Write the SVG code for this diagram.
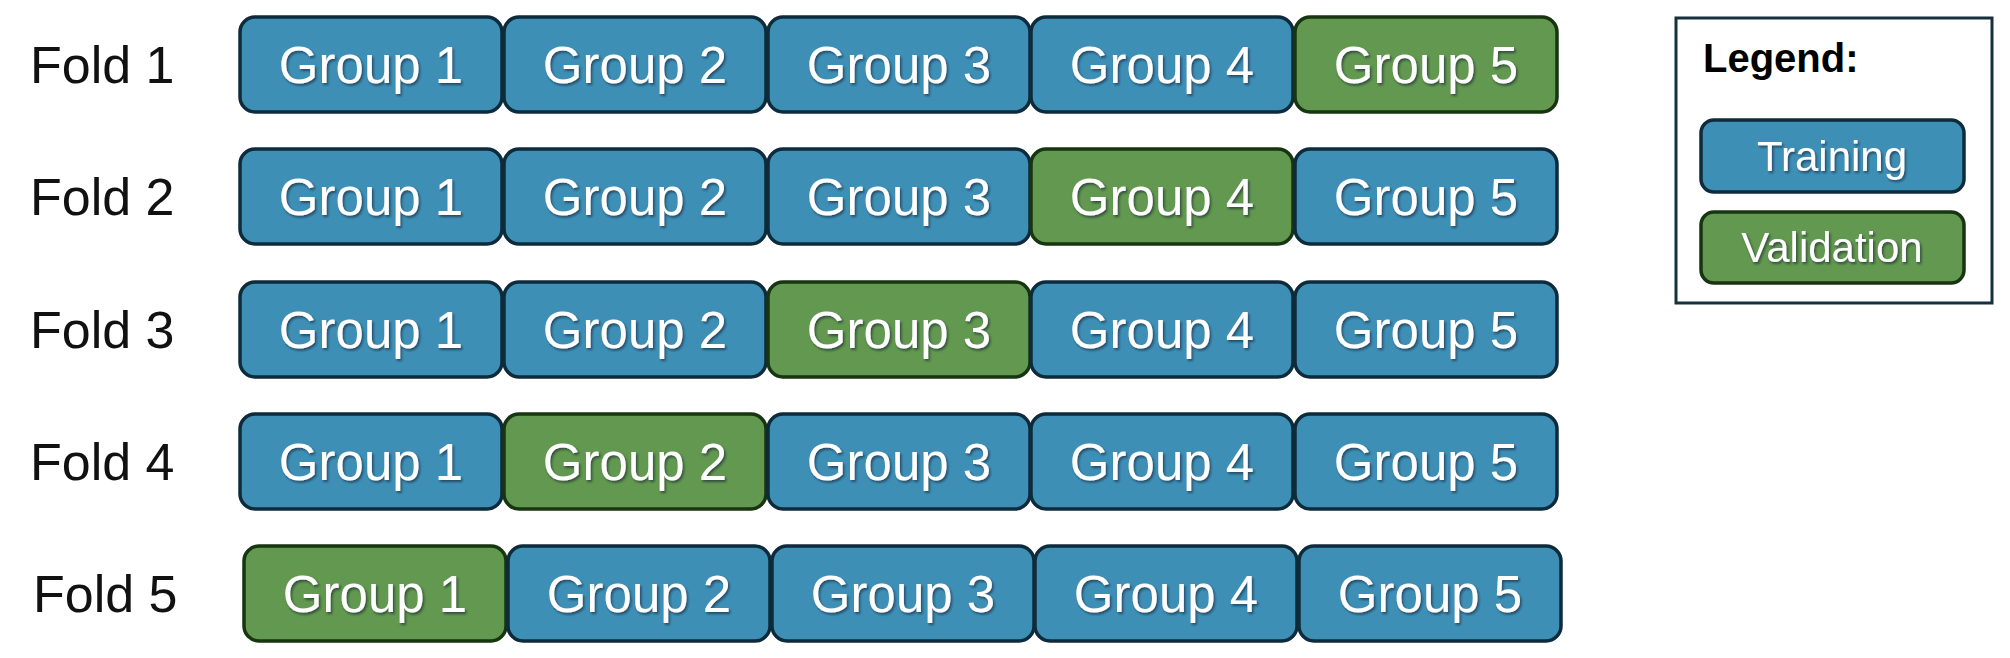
<svg xmlns="http://www.w3.org/2000/svg" width="2010" height="658" viewBox="0 0 2010 658">
<defs>
<filter id="sh" x="-10%" y="-20%" width="120%" height="140%">
<feDropShadow dx="1.5" dy="2" stdDeviation="1" flood-color="#0b2230" flood-opacity="0.6"/>
</filter>
<style>
.tr{fill:#3e8fb6;stroke:#0e2b3b;stroke-width:3.5}
.va{fill:#62984f;stroke:#173510;stroke-width:3.5}
.gt{font-family:"Liberation Sans",Arial,sans-serif;font-size:51px;fill:#ffffff;text-anchor:middle;filter:url(#sh)}
.fl{font-family:"Liberation Sans",Arial,sans-serif;font-size:52px;fill:#111111}
.lg{font-family:"Liberation Sans",Arial,sans-serif;font-size:40px;font-weight:bold;fill:#000000}
.lt{font-family:"Liberation Sans",Arial,sans-serif;font-size:42px;fill:#ffffff;text-anchor:middle;filter:url(#sh)}
</style>
</defs>
<rect width="2010" height="658" fill="#ffffff"/>

<g id="fold1">
<text class="fl" x="30" y="83">Fold 1</text>
<g id="f1g1"><rect class="tr" x="240" y="17" width="262" height="95" rx="15"/><text class="gt" x="371" y="83">Group 1</text></g>
<g id="f1g2"><rect class="tr" x="504" y="17" width="262" height="95" rx="15"/><text class="gt" x="635" y="83">Group 2</text></g>
<g id="f1g3"><rect class="tr" x="768" y="17" width="262" height="95" rx="15"/><text class="gt" x="899" y="83">Group 3</text></g>
<g id="f1g4"><rect class="tr" x="1031" y="17" width="262" height="95" rx="15"/><text class="gt" x="1162" y="83">Group 4</text></g>
<g id="f1g5"><rect class="va" x="1295" y="17" width="262" height="95" rx="15"/><text class="gt" x="1426" y="83">Group 5</text></g>
</g>

<g id="fold2">
<text class="fl" x="30" y="215">Fold 2</text>
<g id="f2g1"><rect class="tr" x="240" y="149" width="262" height="95" rx="15"/><text class="gt" x="371" y="215">Group 1</text></g>
<g id="f2g2"><rect class="tr" x="504" y="149" width="262" height="95" rx="15"/><text class="gt" x="635" y="215">Group 2</text></g>
<g id="f2g3"><rect class="tr" x="768" y="149" width="262" height="95" rx="15"/><text class="gt" x="899" y="215">Group 3</text></g>
<g id="f2g4"><rect class="va" x="1031" y="149" width="262" height="95" rx="15"/><text class="gt" x="1162" y="215">Group 4</text></g>
<g id="f2g5"><rect class="tr" x="1295" y="149" width="262" height="95" rx="15"/><text class="gt" x="1426" y="215">Group 5</text></g>
</g>

<g id="fold3">
<text class="fl" x="30" y="348">Fold 3</text>
<g id="f3g1"><rect class="tr" x="240" y="282" width="262" height="95" rx="15"/><text class="gt" x="371" y="348">Group 1</text></g>
<g id="f3g2"><rect class="tr" x="504" y="282" width="262" height="95" rx="15"/><text class="gt" x="635" y="348">Group 2</text></g>
<g id="f3g3"><rect class="va" x="768" y="282" width="262" height="95" rx="15"/><text class="gt" x="899" y="348">Group 3</text></g>
<g id="f3g4"><rect class="tr" x="1031" y="282" width="262" height="95" rx="15"/><text class="gt" x="1162" y="348">Group 4</text></g>
<g id="f3g5"><rect class="tr" x="1295" y="282" width="262" height="95" rx="15"/><text class="gt" x="1426" y="348">Group 5</text></g>
</g>

<g id="fold4">
<text class="fl" x="30" y="480">Fold 4</text>
<g id="f4g1"><rect class="tr" x="240" y="414" width="262" height="95" rx="15"/><text class="gt" x="371" y="480">Group 1</text></g>
<g id="f4g2"><rect class="va" x="504" y="414" width="262" height="95" rx="15"/><text class="gt" x="635" y="480">Group 2</text></g>
<g id="f4g3"><rect class="tr" x="768" y="414" width="262" height="95" rx="15"/><text class="gt" x="899" y="480">Group 3</text></g>
<g id="f4g4"><rect class="tr" x="1031" y="414" width="262" height="95" rx="15"/><text class="gt" x="1162" y="480">Group 4</text></g>
<g id="f4g5"><rect class="tr" x="1295" y="414" width="262" height="95" rx="15"/><text class="gt" x="1426" y="480">Group 5</text></g>
</g>

<g id="fold5">
<text class="fl" x="33" y="612">Fold 5</text>
<g id="f5g1"><rect class="va" x="244" y="546" width="262" height="95" rx="15"/><text class="gt" x="375" y="612">Group 1</text></g>
<g id="f5g2"><rect class="tr" x="508" y="546" width="262" height="95" rx="15"/><text class="gt" x="639" y="612">Group 2</text></g>
<g id="f5g3"><rect class="tr" x="772" y="546" width="262" height="95" rx="15"/><text class="gt" x="903" y="612">Group 3</text></g>
<g id="f5g4"><rect class="tr" x="1035" y="546" width="262" height="95" rx="15"/><text class="gt" x="1166" y="612">Group 4</text></g>
<g id="f5g5"><rect class="tr" x="1299" y="546" width="262" height="95" rx="15"/><text class="gt" x="1430" y="612">Group 5</text></g>
</g>

<g id="legend">
<rect x="1676" y="18" width="316" height="285" fill="#ffffff" stroke="#16303d" stroke-width="3"/>
<text class="lg" x="1703" y="72">Legend:</text>
<g id="legend-training"><rect class="tr" x="1701" y="120" width="263" height="72" rx="13"/><text class="lt" x="1832" y="171">Training</text></g>
<g id="legend-validation"><rect class="va" x="1701" y="212" width="263" height="71" rx="13"/><text class="lt" x="1832" y="262">Validation</text></g>
</g>

<g id="connectors"/>
</svg>
